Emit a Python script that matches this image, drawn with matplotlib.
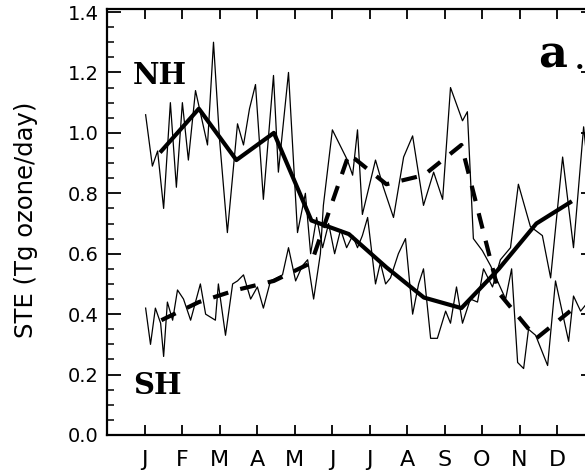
import numpy as np
import matplotlib.pyplot as plt
from matplotlib.ticker import MultipleLocator

# month axis: 1 = start of January
months = ['J', 'F', 'M', 'A', 'M', 'J', 'J', 'A', 'S', 'O', 'N', 'D']

# monthly means (mid-month)
mean_t = [1.45, 2.45, 3.45, 4.45, 5.45, 6.45, 7.45, 8.45, 9.45, 10.45, 11.45, 12.35]
nh_mean = [0.94, 1.08, 0.91, 1.00, 0.71, 0.665, 0.555, 0.455, 0.42, 0.55, 0.70, 0.77]
sh_mean = [0.38, 0.44, 0.48, 0.51, 0.57, 0.93, 0.83, 0.86, 0.96, 0.47, 0.32, 0.41]

# short-period values
nh_t = [1.03, 1.21, 1.35, 1.51, 1.69, 1.85, 2.01, 2.17, 2.36, 2.68, 2.84, 3.00,
        3.21, 3.48, 3.64, 3.80, 3.96, 4.17, 4.44, 4.57, 4.84, 5.08, 5.29, 5.43,
        5.59, 5.75, 5.91, 6.07, 6.23, 6.39, 6.55, 6.68, 6.81, 6.95, 7.16, 7.29,
        7.43, 7.56, 7.77, 7.96, 8.15, 8.31, 8.44, 8.63, 8.81, 9.03, 9.16, 9.32,
        9.48, 9.69, 9.88, 10.04, 10.28, 10.49, 10.76, 10.97, 11.29, 11.61, 11.83,
        12.15, 12.44, 12.71, 12.89]
nh_val = [1.06, 0.89, 0.94, 0.75, 1.10, 0.82, 1.10, 0.91, 1.14, 0.96, 1.30, 0.98,
          0.67, 1.03, 0.96, 1.08, 1.16, 0.78, 1.19, 0.87, 1.20, 0.67, 0.80, 0.60,
          0.72, 0.62, 0.70, 0.60, 0.68, 0.62, 0.66, 0.62, 0.66, 0.72, 0.50, 0.57,
          0.50, 0.52, 0.60, 0.65, 0.40, 0.50, 0.55, 0.32, 0.32, 0.41, 0.37, 0.49,
          0.37, 0.45, 0.44, 0.55, 0.49, 0.58, 0.62, 0.83, 0.69, 0.66, 0.52,
          0.92, 0.62, 1.02, 0.80]

sh_t = [1.03, 1.16, 1.29, 1.43, 1.51, 1.61, 1.75, 1.88, 2.04, 2.23, 2.49, 2.63,
        2.89, 2.97, 3.16, 3.35, 3.48, 3.64, 3.83, 4.01, 4.17, 4.36, 4.68, 4.84,
        5.03, 5.21, 5.35, 5.51, 5.69, 5.77, 6.01, 6.41, 6.55, 6.68, 6.81, 7.16,
        7.37, 7.64, 7.91, 8.15, 8.44, 8.71, 8.95, 9.16, 9.48, 9.61, 9.77, 10.01,
        10.23, 10.63, 10.79, 10.95, 11.11, 11.24, 11.43, 11.75, 11.96, 12.31,
        12.44, 12.63, 12.89]
sh_val = [0.42, 0.30, 0.42, 0.37, 0.26, 0.44, 0.38, 0.48, 0.45, 0.38, 0.50, 0.40,
          0.38, 0.50, 0.33, 0.50, 0.51, 0.53, 0.45, 0.49, 0.42, 0.51, 0.53, 0.62,
          0.51, 0.56, 0.58, 0.45, 0.60, 0.76, 1.01, 0.91, 0.86, 1.01, 0.73, 0.91,
          0.82, 0.72, 0.92, 0.99, 0.76, 0.87, 0.78, 1.15, 1.04, 1.07, 0.65, 0.61,
          0.56, 0.45, 0.55, 0.24, 0.22, 0.35, 0.33, 0.23, 0.51, 0.31,
          0.46, 0.41, 0.45]

fig = plt.figure(figsize=(5.85, 4.75), dpi=100)
# axes run past the right edge like the cropped original
ax = fig.add_axes([107 / 585, 40 / 475, 487.5 / 585, 426 / 475])

ax.plot(nh_t, nh_val, color='black', lw=0.9)
ax.plot(sh_t, sh_val, color='black', lw=0.9)
ax.plot(mean_t, nh_mean, color='black', lw=3.0, solid_joinstyle='round')
ax.plot(mean_t, sh_mean, color='black', lw=3.0, ls=(0, (3.8, 3.0)))

ax.set_xlim(0, 13)
ax.set_ylim(0, 1.41)
ax.set_xticks(range(1, 13))
ax.set_xticklabels(months, family='DejaVu Sans', fontsize=16)
ax.yaxis.set_minor_locator(MultipleLocator(0.05))
ax.set_yticks(np.arange(0, 1.41, 0.2))
ax.set_yticklabels(['%.1f' % v for v in np.arange(0, 1.41, 0.2)],
                   family='DejaVu Sans', fontsize=14)

ax.tick_params(axis='x', which='major', direction='in', top=True, length=7,
               width=1.3, pad=11)
ax.tick_params(axis='y', which='major', direction='in', right=True, length=10,
               width=1.3, pad=6)
ax.tick_params(axis='y', which='minor', direction='in', right=True, length=5,
               width=1.1)
for s in ax.spines.values():
    s.set_linewidth(1.6)

fig.text(26 / 585, 1 - 220 / 475, 'STE (Tg ozone/day)', rotation=90,
         ha='center', va='center', family='DejaVu Sans', fontsize=17.5)

ax.text(0.7, 1.19, 'NH', family='DejaVu Serif', weight='bold', fontsize=21,
        va='center', ha='left')
ax.text(0.7, 0.165, 'SH', family='DejaVu Serif', weight='bold', fontsize=21,
        va='center', ha='left')
ax.text(11.51, 1.257, 'a', family='DejaVu Serif', weight='bold', fontsize=32,
        va='center', ha='left')
ax.text(12.73, 1.212, '.', family='DejaVu Serif', weight='bold', fontsize=20,
        va='baseline', ha='right')

fig.savefig('out.png', dpi=100)
